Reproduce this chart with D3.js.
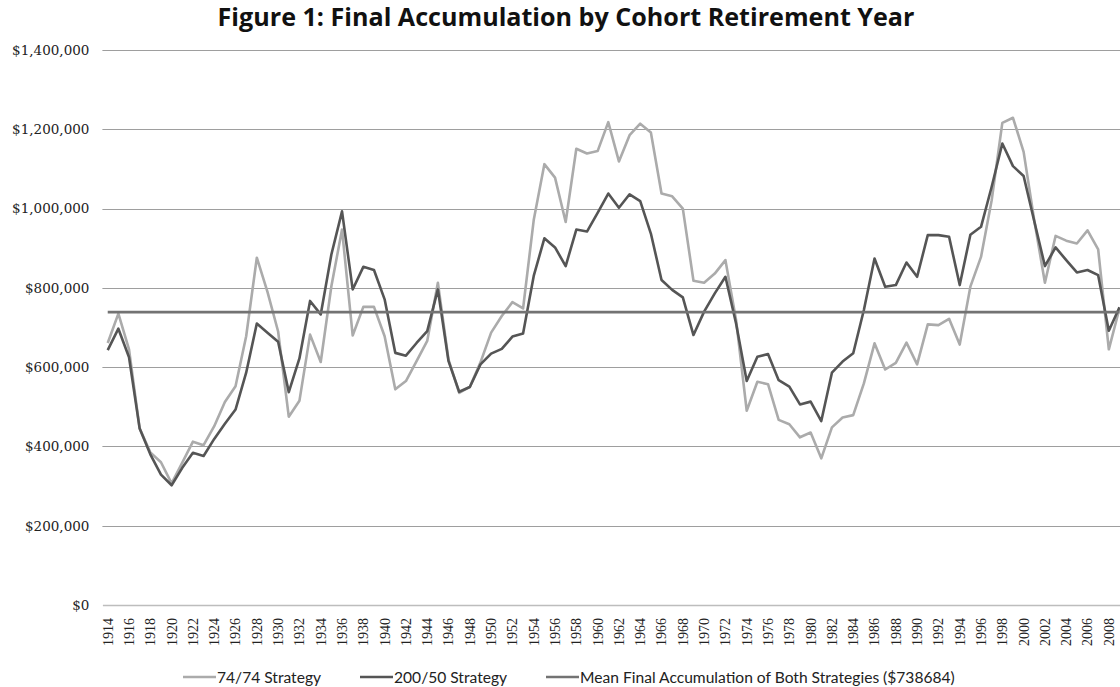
<!DOCTYPE html>
<html><head><meta charset="utf-8">
<script src="https://cdn.jsdelivr.net/npm/d3@7"></script>
<style>body{margin:0;background:#fff}svg{display:block}</style>
</head><body><div id="chart"></div>
<script>
const years = d3.range(1914, 2010);
const strategy7474 = [661000,735000,645000,445000,385000,360000,307000,359000,412000,403000,451000,512000,552000,678000,876000,790000,690000,475000,515000,682000,613000,804000,947000,680000,752000,752000,678000,544000,565000,615000,666000,813000,619000,535000,550000,612000,687000,729000,764000,748000,971000,1112000,1078000,966000,1151000,1139000,1145000,1218000,1119000,1185000,1214000,1192000,1038000,1031000,1000000,818000,813000,836000,870000,719000,490000,563000,557000,467000,456000,423000,435000,370000,448000,473000,479000,559000,660000,594000,611000,662000,607000,708000,706000,722000,657000,803000,878000,1021000,1216000,1229000,1143000,970000,813000,931000,919000,912000,945000,897000,645000,748000];
const strategy20050 = [643000,697000,625000,445000,380000,329000,302000,346000,384000,376000,419000,457000,493000,586000,710000,687000,664000,537000,622000,767000,733000,884000,993000,796000,853000,845000,771000,636000,629000,661000,691000,796000,615000,538000,550000,607000,634000,646000,677000,685000,830000,925000,902000,855000,947000,942000,989000,1038000,1002000,1036000,1019000,937000,820000,795000,776000,681000,740000,786000,828000,710000,565000,626000,633000,567000,551000,506000,513000,464000,586000,614000,635000,744000,874000,803000,807000,864000,828000,933000,933000,929000,807000,934000,954000,1055000,1164000,1107000,1082000,968000,855000,902000,870000,839000,845000,832000,692000,751000];
const meanValue = 738684;
const yTicks = [0,200000,400000,600000,800000,1000000,1200000,1400000];
const xTickYears = years.filter(y => y % 2 === 0);
const seriesNames = ["74/74 Strategy","200/50 Strategy","Mean Final Accumulation of Both Strategies ($738684)"];
const colors = ["#ababab","#555555","#737373"];

const W = 1120, H = 687;
const svg = d3.select("#chart").append("svg").attr("width", W).attr("height", H);
const step = 10.65, x0 = 102.4;
const x = d3.scaleBand().domain(years).range([x0, x0 + step * years.length]).paddingInner(0).paddingOuter(0);
const y = d3.scaleLinear().domain([0, 1400000]).range([605, 50]);
const cx = d => x(d) + x.bandwidth() / 2;

const title = svg.append("text").attr("x", 566).attr("y", 26).attr("text-anchor", "middle")
  .attr("font-family", "'Open Sans', sans-serif").attr("font-weight", "bold")
  .attr("font-size", 22).attr("fill", "#111").text("Figure 1: Final Accumulation by Cohort Retirement Year");
const tw = title.node().getComputedTextLength();
title.attr("font-size", 22 * 697 / tw);

// gridlines
svg.append("g").selectAll("line").data(yTicks.filter(t => t > 0)).join("line")
  .attr("x1", x0).attr("x2", W).attr("y1", d => Math.round(y(d)) + 0.5).attr("y2", d => Math.round(y(d)) + 0.5)
  .attr("stroke", "#9e9e9e").attr("stroke-width", 1);

// y axis
const yAxis = svg.append("g").attr("transform", `translate(${x0},0)`)
  .call(d3.axisLeft(y).tickValues(yTicks).tickFormat(d3.format("$,.0f")).tickSize(0).tickPadding(13));
yAxis.select(".domain").remove();
yAxis.selectAll("text").attr("font-family", "'DejaVu Serif', serif").attr("font-size", 13.5).attr("fill", "#222");

// x axis
const xAxis = svg.append("g").attr("transform", "translate(0,605)")
  .call(d3.axisBottom(x).tickValues(xTickYears).tickSize(0).tickPadding(0));
xAxis.select(".domain").attr("stroke", "#bdbdbd").attr("stroke-width", 1.5);
xAxis.selectAll("text").attr("font-family", "'Liberation Serif', serif").attr("font-size", 14).attr("fill", "#222")
  .attr("transform", "rotate(-90)").attr("text-anchor", "end").attr("dy", "0.35em").attr("x", -13).attr("y", 0);

const line = d3.line().x((d, i) => cx(years[i])).y(d => y(d));
svg.append("path").datum(strategy7474).attr("d", line).attr("fill", "none").attr("stroke", colors[0]).attr("stroke-width", 2.6).attr("stroke-linejoin", "round");
svg.append("path").datum(strategy20050).attr("d", line).attr("fill", "none").attr("stroke", colors[1]).attr("stroke-width", 2.6).attr("stroke-linejoin", "round");
svg.append("path").datum(years.map(() => meanValue)).attr("d", line).attr("fill", "none").attr("stroke", colors[2]).attr("stroke-width", 2.6);

// legend
const legendX = [183, 360, 546];
const lg = svg.append("g").attr("transform", "translate(0,677)");
seriesNames.forEach((n, i) => {
  lg.append("line").attr("x1", legendX[i]).attr("x2", legendX[i] + 33).attr("y1", 0).attr("y2", 0).attr("stroke", colors[i]).attr("stroke-width", 2.6);
  lg.append("text").attr("x", legendX[i] + 34).attr("y", 5.5).attr("font-family", "Lato, 'Open Sans', sans-serif")
    .attr("font-size", 15.6).attr("fill", "#222").text(n);
});
</script></body></html>
